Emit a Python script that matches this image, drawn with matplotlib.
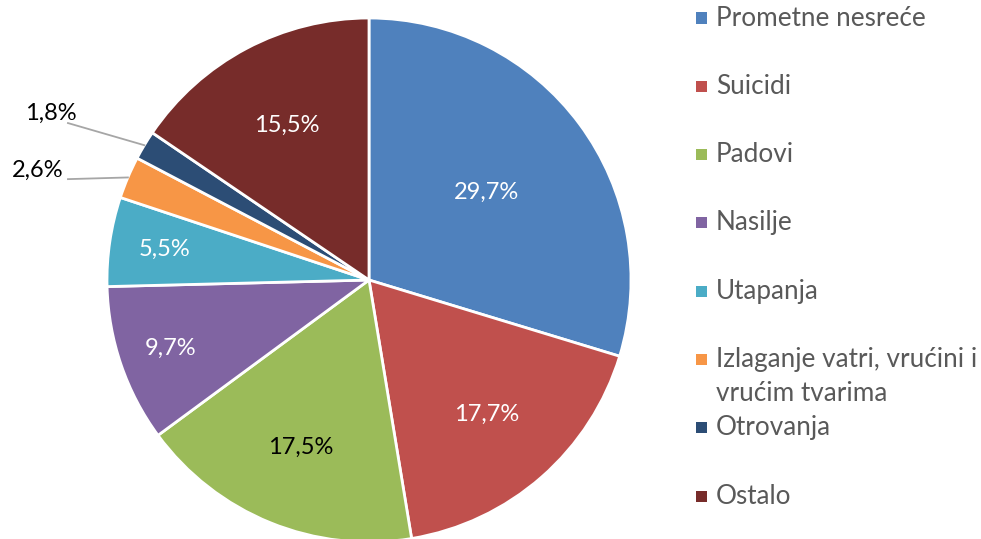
import numpy as np
import matplotlib
matplotlib.use("Agg")
import matplotlib.pyplot as plt
from matplotlib.patches import Rectangle

categories = ["Prometne nesreće", "Suicidi", "Padovi", "Nasilje", "Utapanja",
              "Izlaganje vatri, vrućini i\nvrućim tvarima", "Otrovanja", "Ostalo"]
values = [29.7, 17.7, 17.5, 9.7, 5.5, 2.6, 1.8, 15.5]
colors = ["#4F81BD", "#C0504D", "#9BBB59", "#8064A2", "#4BACC6",
          "#F79646", "#2C4D75", "#772C2A"]
label_colors = ["white", "white", "black", "white", "white", "black", "black", "white"]
label_dist = [0.56, 0.68, 0.69, 0.80, 0.79, None, None, 0.67]

plt.rcParams['font.family'] = ['Lato', 'DejaVu Sans']

W, H = 981, 539
fig = plt.figure(figsize=(W / 100, H / 100), dpi=100)
cx, cy, r = 369, 280, 262
ax = fig.add_axes([(cx - r) / W, (H - cy - r) / H, 2 * r / W, 2 * r / H])

wedges, _ = ax.pie(values, colors=colors, startangle=90, counterclock=False,
                   radius=1, wedgeprops=dict(edgecolor="white", linewidth=2))
ax.set_xlim(-1, 1)
ax.set_ylim(-1, 1)
ax.set_aspect("equal")
ax.axis("off")
ax.set_clip_on(False)

def fmt(v):
    return f"{v:.1f}".replace(".", ",") + "%"

# outside labels: (text position, leader start) in data units
outside = {5: ((-1.263, 0.42), (-1.149, 0.385)),
           6: ((-1.214, 0.637), (-1.149, 0.599))}

start = 90.0
for i, v in enumerate(values):
    ang = start - v * 3.6 / 2
    start -= v * 3.6
    a = np.deg2rad(ang)
    if i in outside:
        (tx, ty), (lx, ly) = outside[i]
        ax.plot([lx, np.cos(a)], [ly, np.sin(a)], color="#A6A6A6", lw=1.3,
                clip_on=False, zorder=1)
        ax.text(tx, ty, fmt(v), ha="center", va="center", fontsize=17,
                color="black", clip_on=False)
    else:
        d = label_dist[i]
        ax.text(d * np.cos(a), d * np.sin(a), fmt(v), ha="center", va="center",
                fontsize=17, color=label_colors[i])

# legend
for i, (name, c) in enumerate(zip(categories, colors)):
    y = 18 + 68.3 * i
    fig.patches.append(Rectangle((696 / W, 1 - (y + 5.5) / H), 11 / W, 11 / H,
                                 transform=fig.transFigure, facecolor=c,
                                 edgecolor="none"))
    for j, line in enumerate(name.split("\n")):
        fig.text(716 / W, 1 - (y + 34 * j) / H, line, ha="left", va="center",
                 fontsize=18.8, color="#595959")

fig.savefig("out.png", dpi=100)
